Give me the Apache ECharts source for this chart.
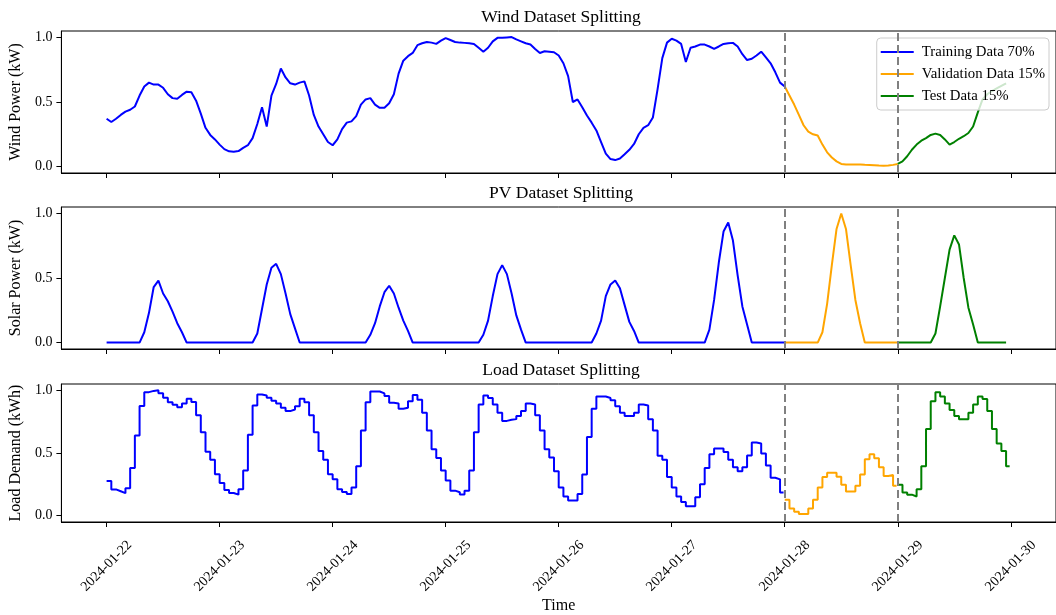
<!DOCTYPE html>
<html>
<head>
<meta charset="utf-8">
<script src="https://cdn.jsdelivr.net/npm/echarts@6/dist/echarts.min.js"></script>
<style>
  html, body { margin: 0; padding: 0; background: #fff; }
  #chart { width: 1056px; height: 615px; }
</style>
</head>
<body>
<div id="chart"></div>
<script>
// hourly data, 2024-01-22 00:00 .. 2024-01-29 23:00
const startDate = '2024-01-22';
const dayTicks = ['2024-01-22', '2024-01-23', '2024-01-24', '2024-01-25', '2024-01-26',
  '2024-01-27', '2024-01-28', '2024-01-29', '2024-01-30'];
const splitDates = ['2024-01-28', '2024-01-29'];
const splitNames = ['Training Data 70%', 'Validation Data 15%', 'Test Data 15%'];
const panelTitles = ['Wind Dataset Splitting', 'PV Dataset Splitting', 'Load Dataset Splitting'];
const yNames = ['Wind Power (kW)', 'Solar Power (kW)', 'Load Demand (kWh)'];
const yTicks = [0, 0.5, 1.0];

const windPower = [
  0.37, 0.345, 0.37, 0.40, 0.425, 0.44, 0.465, 0.55, 0.62, 0.65,
  0.635, 0.635, 0.61, 0.56, 0.53, 0.525, 0.555, 0.58, 0.575, 0.51,
  0.41, 0.30, 0.245, 0.21, 0.17, 0.135, 0.118, 0.115, 0.12, 0.145,
  0.165, 0.22, 0.33, 0.46, 0.31, 0.55, 0.64, 0.76, 0.69, 0.645,
  0.635, 0.65, 0.66, 0.55, 0.40, 0.31, 0.25, 0.19, 0.165, 0.21,
  0.29, 0.34, 0.35, 0.39, 0.48, 0.52, 0.53, 0.48, 0.455, 0.455,
  0.49, 0.56, 0.72, 0.82, 0.855, 0.88, 0.94, 0.955, 0.965, 0.96,
  0.95, 0.975, 0.995, 0.98, 0.965, 0.96, 0.958, 0.955, 0.95, 0.92,
  0.89, 0.92, 0.97, 0.997, 0.997, 1.0, 1.003, 0.985, 0.97, 0.955,
  0.945, 0.91, 0.88, 0.893, 0.89, 0.885, 0.86, 0.8, 0.7, 0.5,
  0.52, 0.46, 0.395, 0.34, 0.28, 0.19, 0.1, 0.058, 0.05, 0.062,
  0.095, 0.13, 0.175, 0.25, 0.3, 0.32, 0.38, 0.6, 0.84, 0.96,
  0.99, 0.975, 0.95, 0.81, 0.92, 0.93, 0.945, 0.945, 0.93, 0.912,
  0.93, 0.95, 0.955, 0.958, 0.93, 0.87, 0.825, 0.835, 0.86, 0.89,
  0.845, 0.8, 0.73, 0.65,
  // validation
  0.62, 0.55, 0.48, 0.40, 0.32, 0.27, 0.25, 0.24, 0.17, 0.11, 0.07, 0.04,
  0.02, 0.016, 0.016, 0.016, 0.015, 0.013, 0.012, 0.01, 0.008, 0.007, 0.008, 0.013,
  // test
  0.02, 0.04, 0.08, 0.13, 0.17, 0.2, 0.22, 0.245, 0.255, 0.245, 0.21, 0.17,
  0.19, 0.215, 0.235, 0.26, 0.31, 0.42, 0.52, 0.56, 0.585, 0.605, 0.625, 0.645
];

const solarPower = [
  0, 0, 0, 0, 0, 0, 0, 0, 0.08, 0.23, 0.43, 0.48, 0.38, 0.32, 0.24, 0.15, 0.08, 0, 0, 0, 0, 0, 0, 0,
  0, 0, 0, 0, 0, 0, 0, 0, 0.07, 0.26, 0.45, 0.58, 0.61, 0.53, 0.38, 0.22, 0.11, 0, 0, 0, 0, 0, 0, 0,
  0, 0, 0, 0, 0, 0, 0, 0, 0.06, 0.15, 0.28, 0.39, 0.44, 0.38, 0.27, 0.17, 0.09, 0, 0, 0, 0, 0, 0, 0,
  0, 0, 0, 0, 0, 0, 0, 0, 0.06, 0.17, 0.36, 0.53, 0.60, 0.53, 0.38, 0.21, 0.10, 0, 0, 0, 0, 0, 0, 0,
  0, 0, 0, 0, 0, 0, 0, 0, 0.07, 0.17, 0.36, 0.45, 0.48, 0.42, 0.29, 0.16, 0.09, 0, 0, 0, 0, 0, 0, 0,
  0, 0, 0, 0, 0, 0, 0, 0, 0.10, 0.33, 0.62, 0.86, 0.93, 0.79, 0.52, 0.28, 0.14, 0, 0, 0, 0, 0, 0, 0,
  0, 0, 0, 0, 0, 0, 0, 0, 0.08, 0.30, 0.60, 0.88, 1.00, 0.88, 0.60, 0.33, 0.15, 0, 0, 0, 0, 0, 0, 0,
  0, 0, 0, 0, 0, 0, 0, 0, 0.07, 0.28, 0.50, 0.72, 0.83, 0.76, 0.50, 0.27, 0.14, 0, 0, 0, 0, 0, 0, 0
];

const loadDemand = [
  0.277, 0.21, 0.195, 0.18, 0.22, 0.38, 0.64, 0.875, 0.985, 0.995, 1.0, 0.977,
  0.94, 0.905, 0.885, 0.865, 0.895, 0.933, 0.907, 0.8, 0.665, 0.51, 0.446, 0.33,
  0.26, 0.205, 0.181, 0.168, 0.212, 0.36, 0.645, 0.878, 0.966, 0.958, 0.94, 0.917,
  0.894, 0.86, 0.834, 0.847, 0.873, 0.933, 0.904, 0.8, 0.666, 0.516, 0.446, 0.33,
  0.29, 0.212, 0.19, 0.174, 0.225, 0.394, 0.679, 0.904, 0.99, 0.99, 0.975, 0.955,
  0.9, 0.895, 0.852, 0.86, 0.912, 0.962, 0.925, 0.82, 0.68, 0.53, 0.46, 0.36,
  0.28, 0.2, 0.187, 0.17, 0.2, 0.36, 0.666, 0.886, 0.958, 0.938, 0.886, 0.821,
  0.756, 0.765, 0.77, 0.795, 0.834, 0.894, 0.886, 0.8, 0.679, 0.53, 0.464, 0.355,
  0.225, 0.153, 0.122, 0.122, 0.174, 0.329, 0.627, 0.852, 0.95, 0.95, 0.938, 0.92,
  0.873, 0.821, 0.795, 0.795, 0.821, 0.886, 0.878, 0.769, 0.679, 0.479, 0.446, 0.308,
  0.225, 0.153, 0.109, 0.075, 0.075, 0.148, 0.251, 0.381, 0.49, 0.536, 0.536, 0.508,
  0.446, 0.386, 0.355, 0.386, 0.48, 0.583, 0.575, 0.497, 0.4, 0.303, 0.29, 0.186,
  // validation
  0.127, 0.057, 0.031, 0.013, 0.013, 0.057, 0.127, 0.225, 0.308, 0.342, 0.342, 0.31,
  0.246, 0.194, 0.194, 0.238, 0.329, 0.45, 0.49, 0.459, 0.386, 0.316, 0.324, 0.238,
  // test
  0.246, 0.186, 0.168, 0.153, 0.212, 0.394, 0.692, 0.912, 0.984, 0.95, 0.894, 0.842,
  0.795, 0.769, 0.769, 0.821, 0.886, 0.95, 0.93, 0.834, 0.692, 0.575, 0.516, 0.394
];

const HOUR = 3600 * 1000;
const DAY = 24 * HOUR;
const toTime = (d) => Date.parse(d + 'T00:00:00Z');
const t0 = toTime(startDate);
const tickTimes = dayTicks.map(toTime);
const splitTimes = splitDates.map(toTime);
const splitIdx = splitTimes.map((t) => Math.round((t - t0) / HOUR));

const FONT = '"Liberation Serif", "DejaVu Serif", serif';
const colors = ['#0000ff', '#ffa500', '#008000'];
const gridTops = [31, 207, 384];
const gridH = 142;
const gridLeft = 61;
const gridRight = -5;
const plotCenterX = (gridLeft + 1056 - gridRight) / 2;

const pad2 = (n) => (n < 10 ? '0' : '') + n;
const fmtDate = (v) => {
  const d = new Date(v);
  return d.getUTCFullYear() + '-' + pad2(d.getUTCMonth() + 1) + '-' + pad2(d.getUTCDate());
};

// one piece of a series; smooth series join to the next piece, load is held per hour
const piece = (values, from, to, held) => {
  const pts = [];
  for (let i = from; i < to; i++) pts.push([t0 + i * HOUR, values[i]]);
  if (held) {
    pts.push([t0 + (to - 0.25) * HOUR, values[to - 1]]);
  } else if (to < values.length) {
    pts.push([t0 + to * HOUR, values[to]]);
  }
  return pts;
};

const datasets = [windPower, solarPower, loadDemand];
const bounds = [0, splitIdx[0], splitIdx[1], windPower.length];

const series = [];
datasets.forEach((values, p) => {
  const held = p === 2;
  for (let s = 0; s < 3; s++) {
    const item = {
      type: 'line',
      name: splitNames[s],
      xAxisIndex: p,
      yAxisIndex: p,
      data: piece(values, bounds[s], bounds[s + 1], held),
      symbol: 'none',
      step: held ? 'end' : false,
      lineStyle: { color: colors[s], width: 2 },
      itemStyle: { color: colors[s] },
      silent: true,
      animation: false
    };
    // split markers, drawn after the lines
    if (s === 2) {
      item.markLine = {
        silent: true,
        symbol: 'none',
        label: { show: false },
        lineStyle: { color: '#808080', type: [8, 4], width: 2 },
        data: splitTimes.map((t) => ({ xAxis: t }))
      };
    }
    series.push(item);
  }
});

const chart = echarts.init(document.getElementById('chart'), null, { renderer: 'canvas' });

const option = {
  backgroundColor: '#fff',
  animation: false,
  grid: gridTops.map((top) => ({
    left: gridLeft, right: gridRight, top: top, height: gridH,
    show: true, borderColor: '#000', borderWidth: 1
  })),
  xAxis: gridTops.map((_, i) => ({
    type: 'value',
    gridIndex: i,
    min: t0 - 0.4 * DAY,
    max: tickTimes[tickTimes.length - 1] + 0.4 * DAY,
    axisLine: { show: true, onZero: false, lineStyle: { color: '#000', width: 1 } },
    splitLine: { show: false },
    axisTick: { show: true, customValues: tickTimes, length: 5, lineStyle: { color: '#000' } },
    axisLabel: {
      show: i === 2,
      customValues: tickTimes,
      rotate: 45,
      align: 'center',
      verticalAlign: 'middle',
      margin: 44,
      formatter: fmtDate,
      fontFamily: FONT,
      fontSize: 14,
      color: '#000'
    },
    name: i === 2 ? 'Time' : '',
    nameLocation: 'middle',
    nameGap: 76,
    nameTextStyle: { fontFamily: FONT, fontSize: 16, color: '#000' }
  })),
  yAxis: gridTops.map((_, i) => ({
    type: 'value',
    gridIndex: i,
    min: -0.05,
    max: 1.05,
    axisLine: { show: true, onZero: false, lineStyle: { color: '#000', width: 1 } },
    splitLine: { show: false },
    axisTick: { show: true, customValues: yTicks, length: 5, lineStyle: { color: '#000' } },
    axisLabel: {
      customValues: yTicks,
      formatter: (v) => v.toFixed(1),
      margin: 9,
      fontFamily: FONT,
      fontSize: 14,
      color: '#000'
    },
    name: yNames[i],
    nameLocation: 'middle',
    nameRotate: 90,
    nameGap: 33,
    nameTextStyle: { fontFamily: FONT, fontSize: 16, color: '#000' }
  })),
  legend: {
    data: splitNames,
    orient: 'vertical',
    right: 7,
    top: 38,
    backgroundColor: 'rgba(255,255,255,0.8)',
    borderColor: '#cccccc',
    borderWidth: 1,
    borderRadius: 4,
    padding: [6, 4, 6, 4],
    icon: 'rect',
    itemWidth: 33,
    itemHeight: 2,
    itemGap: 6,
    selectedMode: false,
    textStyle: { fontFamily: FONT, fontSize: 14.8, lineHeight: 16, color: '#000', padding: [0, 0, 0, 3] }
  },
  graphic: panelTitles.map((t, i) => ({
    type: 'text',
    x: plotCenterX,
    y: gridTops[i] - 14,
    style: {
      text: t,
      font: '17.5px ' + FONT,
      fill: '#000',
      textAlign: 'center',
      textVerticalAlign: 'middle'
    }
  })),
  series: series
};

chart.setOption(option);
</script>
</body>
</html>
